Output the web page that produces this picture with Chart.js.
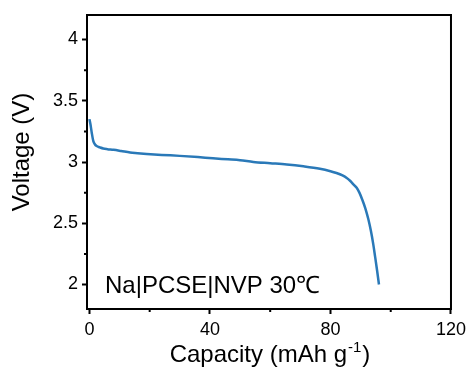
<!DOCTYPE html>
<html>
<head>
<meta charset="utf-8">
<script src="https://cdn.jsdelivr.net/npm/chart.js@4"></script>
<style>
  body { margin: 0; background: #fff; }
</style>
</head>
<body>
<canvas id="dischargeChart" width="471" height="369"></canvas>
<script>
// DATA
let capacity = [0, 0.4, 0.8, 1.3, 1.8, 2.4, 3.4, 4.6, 6, 8, 10.5, 13.5, 16, 19, 24, 30, 36, 41, 46, 50,
    54.4, 60, 65.5, 71, 76.5, 80, 82, 84, 85.4, 86.6, 87.7, 88.7, 89.6, 90.6, 91.6, 92.6, 93.4, 94.2, 94.8, 95.5, 96.1];
let voltage = [3.35, 3.30, 3.235, 3.17, 3.145, 3.13, 3.12, 3.11, 3.105, 3.10, 3.09, 3.077, 3.072, 3.066, 3.058, 3.05, 3.04, 3.03, 3.022, 3.015,
    3.0, 2.99, 2.98, 2.965, 2.945, 2.925, 2.91, 2.89, 2.87, 2.845, 2.815, 2.79, 2.75, 2.69, 2.62, 2.53, 2.44, 2.33, 2.23, 2.11, 2.0];
let xMajorTicks = [0, 40, 80, 120];
let xMinorTicks = [20, 60, 100];
let yMajorTicks = [2, 2.5, 3, 3.5, 4];
let yMinorTicks = [2.25, 2.75, 3.25, 3.75];
let cellLabel = 'Na|PCSE|NVP 30\u2103';

let fontFam = '"Liberation Sans", Arial, sans-serif';

// frame, minor ticks, titles and label
let framePlugin = {
    id: 'framePlugin',
    afterDraw(chart) {
        let ctx = chart.ctx;
        let a = chart.chartArea;
        let xs = chart.scales.x, ys = chart.scales.y;
        ctx.save();
        ctx.strokeStyle = '#000';
        ctx.lineWidth = 2;
        ctx.strokeRect(a.left, a.top, a.right - a.left, a.bottom - a.top);
        // minor ticks
        ctx.beginPath();
        xMinorTicks.forEach(v => {
            let px = xs.getPixelForValue(v);
            ctx.moveTo(px, a.bottom);
            ctx.lineTo(px, a.bottom + 3);
        });
        yMinorTicks.forEach(v => {
            let py = ys.getPixelForValue(v);
            ctx.moveTo(a.left, py);
            ctx.lineTo(a.left - 3, py);
        });
        ctx.stroke();

        ctx.fillStyle = '#000';
        // y title
        ctx.save();
        ctx.translate(22, 152);
        ctx.rotate(-Math.PI / 2);
        ctx.font = '24px ' + fontFam;
        ctx.textAlign = 'center';
        ctx.textBaseline = 'middle';
        ctx.fillText('Voltage (V)', 0, 0);
        ctx.restore();

        // x title with superscript
        ctx.font = '24px ' + fontFam;
        ctx.textBaseline = 'alphabetic';
        ctx.textAlign = 'left';
        let t1 = 'Capacity (mAh g', sup = '-1', t2 = ')';
        let w1 = ctx.measureText(t1).width;
        ctx.font = '15px ' + fontFam;
        let ws = ctx.measureText(sup).width;
        ctx.font = '24px ' + fontFam;
        let w2 = ctx.measureText(t2).width;
        let x0 = (a.left + a.right) / 2 - (w1 + ws + w2) / 2;
        let base = 362;
        ctx.fillText(t1, x0, base);
        ctx.font = '15px ' + fontFam;
        ctx.fillText(sup, x0 + w1 + 1, base - 10);
        ctx.font = '24px ' + fontFam;
        ctx.fillText(t2, x0 + w1 + ws + 2, base);

        // cell label
        ctx.font = '24px ' + fontFam;
        ctx.fillText(cellLabel, 105, 293);
        ctx.restore();
    }
};

let ctx = document.getElementById('dischargeChart').getContext('2d');
let dischargeChart = new Chart(ctx, {
    type: 'line',
    data: {
        datasets: [{
            label: 'discharge',
            data: capacity.map((c, i) => ({ x: c, y: voltage[i] })),
            borderColor: '#2a79b8',
            borderWidth: 2.5,
            pointRadius: 0,
            fill: false,
            cubicInterpolationMode: 'monotone'
        }]
    },
    options: {
        responsive: false,
        animation: false,
        layout: { padding: { top: 15, right: 20, left: 0, bottom: 0 } },
        plugins: { legend: { display: false }, tooltip: { enabled: false } },
        scales: {
            x: {
                type: 'linear',
                min: -0.8,
                max: 120,
                afterBuildTicks: s => { s.ticks = xMajorTicks.map(v => ({ value: v })); },
                afterFit: s => { s.height = 60; },
                grid: { drawOnChartArea: false, tickLength: 5, tickWidth: 2, tickColor: '#000' },
                border: { display: false },
                ticks: { color: '#000', font: { family: fontFam, size: 18 }, padding: 5, maxRotation: 0,
                    callback: v => String(v) }
            },
            y: {
                type: 'linear',
                min: 1.8,
                max: 4.2,
                afterBuildTicks: s => { s.ticks = yMajorTicks.map(v => ({ value: v })); },
                afterFit: s => { s.width = 87; },
                grid: { drawOnChartArea: false, tickLength: 5, tickWidth: 2, tickColor: '#000' },
                border: { display: false },
                ticks: { color: '#000', font: { family: fontFam, size: 18 }, padding: 4,
                    callback: v => String(v) }
            }
        }
    },
    plugins: [framePlugin]
});
</script>
</body>
</html>
